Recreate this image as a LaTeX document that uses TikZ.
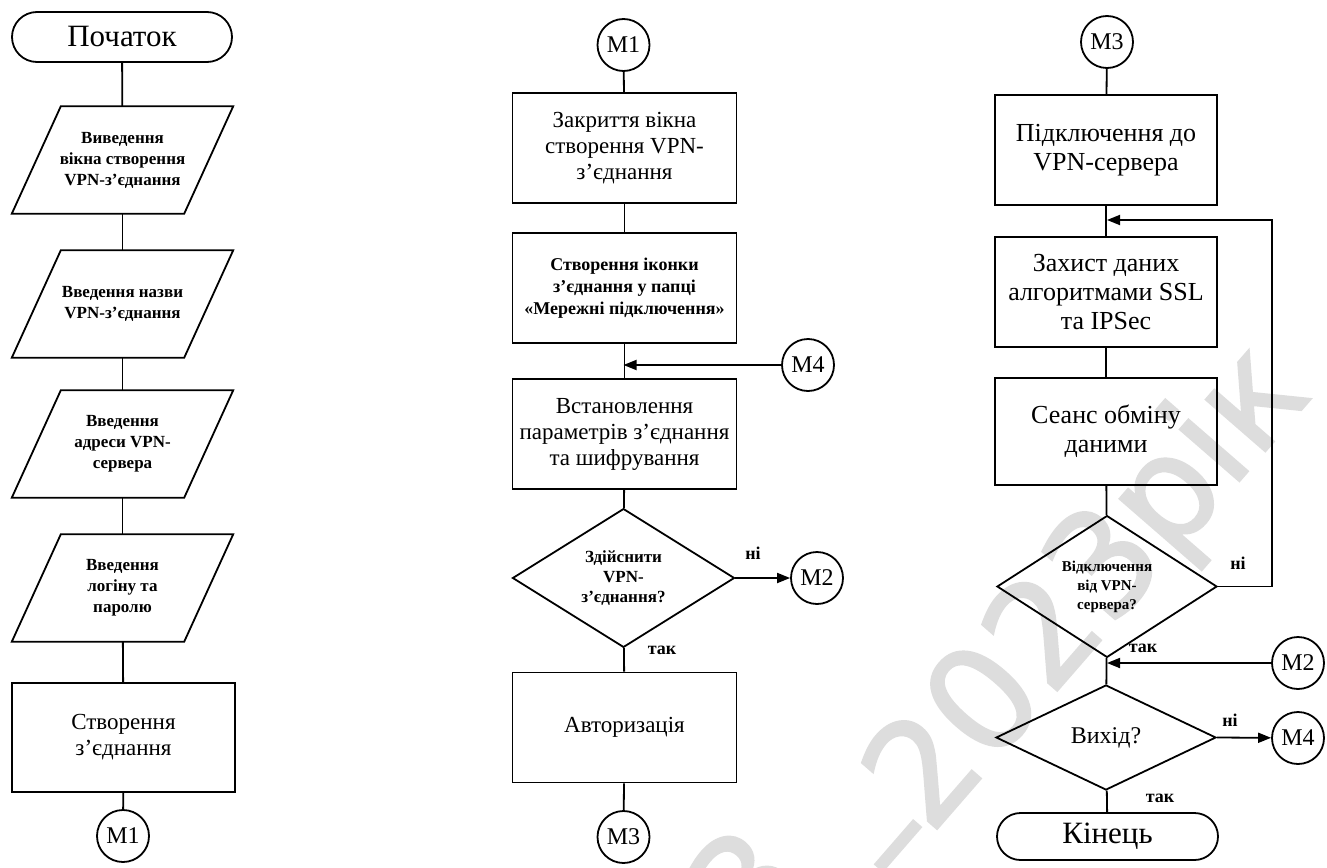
\documentclass[tikz,border=0pt]{standalone}
\usepackage{fontspec}
\setmainfont{Liberation Serif}
\newfontfamily\wmfont[FakeBold=1.5]{DejaVu Sans}
\usetikzlibrary{shapes.geometric,shapes.misc,arrows.meta}
\begin{document}
\begin{tikzpicture}[x=1pt,y=-1pt,
  every node/.style={font=\fontsize{23}{26}\selectfont, align=center, text=black},
  line/.style={line width=1.8pt, draw=black},
  arr/.style={line width=1.8pt, -{Triangle[length=13pt,width=10pt]}},
  term/.style={rounded rectangle, draw, line width=1.8pt, minimum width=220pt, minimum height=50pt, inner sep=0pt, font=\fontsize{31}{34}\selectfont},
  box/.style={rectangle, draw, line width=1.8pt, minimum width=224pt, minimum height=110pt, inner sep=1pt},
  bigbox/.style={box, font=\fontsize{26}{29}\selectfont},
  iobox/.style={rectangle, minimum width=172pt, minimum height=107pt, inner sep=0pt, font=\fontsize{17}{21}\selectfont\bfseries},
  dec/.style={diamond, draw, line width=1.8pt, minimum width=222pt, minimum height=108pt, inner sep=0pt},
  conn/.style={circle, draw, line width=1.8pt, minimum size=52pt, inner sep=0pt, font=\fontsize{24}{26}\selectfont},
  lbl/.style={font=\fontsize{18}{20}\selectfont\bfseries},
  wm/.style={text=gray!27, font=\wmfont\fontsize{144}{144}\selectfont, rotate=49, inner sep=0pt},
]
\useasboundingbox (0,0) rectangle (1327,867);
\fill[white] (0,0) rectangle (1327,867);

% watermark
\node[wm] (wmA) at (1092,590) {2023рік};
\node[wm] (wmB) at (745,885) {3};
\node[wm] (wmC) at (911,857) {–};

% ---------- column 1 ----------
\node[term] (start) at (122,37) {Початок};
\node[iobox] (io1) at (122.5,160) {Виведення\\вікна створення\\VPN-з’єднання};
\node[iobox] (io2) at (122.5,304) {Введення назви\\VPN-з’єднання};
\node[iobox] (io3) at (122.5,444) {Введення\\адреси VPN-\\сервера};
\node[iobox] (io4) at (122.5,588) {Введення\\логіну та\\паролю};
\foreach \n in {io1,io2,io3,io4}
  \draw[line] ([xshift=24.5pt]\n.north west) -- ([xshift=24.5pt]\n.north east)
     -- ([xshift=-24.5pt]\n.south east) -- ([xshift=-24.5pt]\n.south west) -- cycle;
\node[box, minimum width=223pt, minimum height=109pt] (mk) at (123.5,737.5) {Створення\\з’єднання};
\node[conn] (m1a) at (123,836) {M1};

\draw[line] (start) -- (io1);
\draw[line] (io1) -- (io2);
\draw[line] (io2) -- (io3);
\draw[line] (io3) -- (io4);
\draw[line] (io4) -- (mk);
\draw[line] (mk) -- (m1a);

% ---------- column 2 ----------
\node[conn] (m1b) at (623.5,45) {M1};
\node[box] (b1) at (624.5,148) {Закриття вікна\\створення VPN-\\з’єднання};
\node[box, font=\fontsize{18}{22}\selectfont\bfseries] (b2) at (624.5,288) {Створення іконки\\з’єднання у папці\\«Мережні підключення»};
\node[box] (b3) at (624.5,434) {Встановлення\\параметрів з’єднання\\та шифрування};
\node[dec, font=\fontsize{17}{20}\selectfont\bfseries] (d1) at (623.5,578) {Здійснити\\VPN-\\з’єднання?};
\node[box] (auth) at (624.5,727.5) {Авторизація};
\node[conn] (m3a) at (623.5,837) {M3};
\node[conn] (m4a) at (808,365) {M4};
\node[conn] (m2a) at (817,578) {M2};
\coordinate (j1) at (623.5,365);

\draw[line] (m1b) -- (b1);
\draw[line] (b1) -- (b2);
\draw[line] (b2) -- (b3);
\draw[arr] (m4a) -- (j1);
\draw[line] (b3) -- (d1);
\draw[line] (d1) -- (auth);
\draw[line] (auth) -- (m3a);
\draw[arr] (d1.east) -- (m2a);
\node[lbl] (l1) at (753,553) {ні};
\node[lbl] (l2) at (662,650) {так};

% ---------- column 3 ----------
\node[conn] (m3b) at (1107,42) {M3};
\node[bigbox, minimum width=222pt] (c1) at (1106,150) {Підключення до\\VPN-сервера};
\node[bigbox, minimum width=222pt] (c2) at (1106,292) {Захист даних\\алгоритмами SSL\\та IPSec};
\node[bigbox, minimum width=222pt, minimum height=107pt] (c3) at (1106,431.5) {Сеанс обміну\\даними};
\node[dec, minimum width=220pt, minimum height=107pt, font=\fontsize{15}{19}\selectfont\bfseries] (e1) at (1107,586.5) {Відключення\\від VPN-\\сервера?};
\node[dec, minimum width=220pt, minimum height=105pt, font=\fontsize{24}{26}\selectfont] (e2) at (1106,737.5) {Вихід?};
\node[term, minimum width=221pt, minimum height=47pt] (fin) at (1107.5,836.5) {Кінець};
\node[conn] (m2b) at (1298,663) {M2};
\node[conn] (m4b) at (1298,738) {M4};
\coordinate (j2) at (1107,220);
\coordinate (j3) at (1272,586.5);
\coordinate (j4) at (1272,220);
\coordinate (j5) at (1107,663);

\draw[line] (m3b) -- (c1);
\draw[line] (c1) -- (c2);
\draw[line] (c2) -- (c3);
\draw[line] (c3) -- (e1);
\draw[arr] (e1.east) -- (j3) -- (j4) -- (j2);
\draw[line] (e1) -- (e2);
\draw[arr] (m2b) -- (j5);
\draw[arr] (e2.east) -- (m4b);
\draw[line] (e2) -- (fin);
\node[lbl] (l3) at (1238,563) {ні};
\node[lbl] (l4) at (1143,648) {так};
\node[lbl] (l5) at (1230,720) {ні};
\node[lbl] (l6) at (1160,798) {так};
\end{tikzpicture}
\end{document}
